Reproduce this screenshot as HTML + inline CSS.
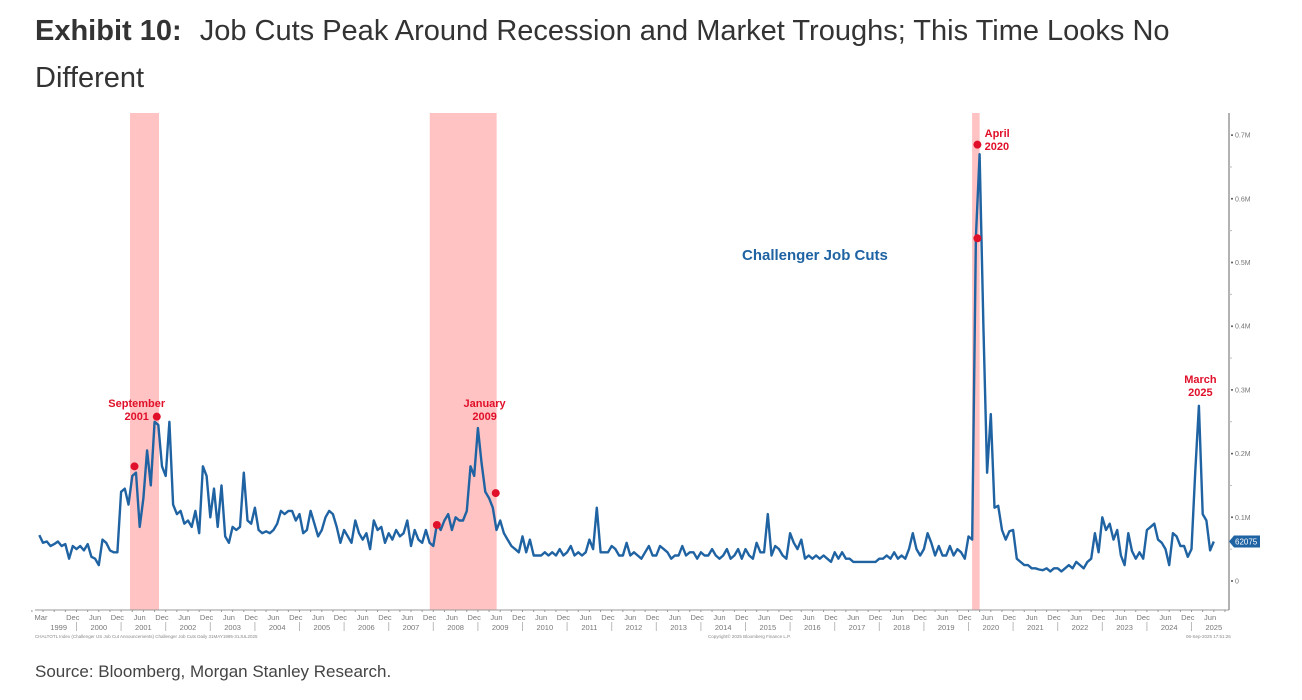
<!DOCTYPE html>
<html><head><meta charset="utf-8">
<style>
body{margin:0;background:#fff;width:1302px;height:700px;overflow:hidden;font-family:"Liberation Sans",sans-serif}
#title{position:absolute;left:35px;top:8px;font-size:29px;color:#333;line-height:47px;width:1240px}
#title b{font-weight:bold;margin-right:10px}
#source{position:absolute;left:35px;top:662px;font-size:17px;color:#444}
svg{position:absolute;left:0;top:0}
</style></head><body>
<div id="title"><b>Exhibit 10:</b> Job Cuts Peak Around Recession and Market Troughs; This Time Looks No Different</div>
<div id="source">Source: Bloomberg, Morgan Stanley Research.</div>
<svg id="chart" width="1302" height="700"></svg>
<script>
const startYear = 1999, startMonth = 2; // March 1999
const values = [
72,60,62,55,58,62,55,58,35,55,
50,55,48,58,38,35,25,65,60,48,45,45,
140,145,120,165,170,85,130,205,150,250,245,180,
165,250,120,105,110,90,95,85,110,75,180,165,
100,145,85,150,70,60,85,80,85,170,95,90,
115,80,75,78,75,80,90,110,105,110,110,95,
105,75,80,110,90,70,80,100,110,105,85,60,
80,70,60,95,75,65,75,50,95,80,85,60,
75,65,80,70,75,95,55,80,65,60,80,60,
55,90,80,95,105,80,100,95,95,110,180,165,
240,185,140,130,115,80,95,75,65,55,50,45,
70,45,65,40,40,40,45,40,45,40,50,40,
45,55,40,45,40,45,65,50,115,45,45,45,
55,50,40,40,60,40,45,40,35,45,55,40,
40,55,50,45,35,40,40,55,40,45,45,35,
45,40,40,50,40,35,40,50,35,40,50,35,
50,40,35,60,45,45,105,40,55,50,40,35,
75,60,50,65,35,40,35,40,35,40,35,30,
45,35,45,35,35,30,30,30,30,30,30,30,
35,35,40,35,45,35,40,35,50,75,50,40,
50,75,60,40,55,40,40,55,40,50,45,35,
70,65,540,670,400,170,262,115,118,80,65,78,
80,35,30,25,25,20,20,18,17,20,15,20,
20,15,20,25,20,30,25,20,30,35,75,45,
100,80,90,65,80,40,25,75,47,35,45,35,
80,85,90,65,60,50,25,75,70,55,55,38,
50,170,275,105,95,48,62
];
const recessions = [[2001.2,2001.85],[2007.92,2009.42],[2020.08,2020.25]];
const yTicks = [0,100,200,300,400,500,600,700];
const yTickLabels = ["0","0.1M","0.2M","0.3M","0.4M","0.5M","0.6M","0.7M"];
const years = [1999,2000,2001,2002,2003,2004,2005,2006,2007,2008,2009,2010,2011,2012,2013,2014,2015,2016,2017,2018,2019,2020,2021,2022,2023,2024,2025];
const annotations = [
 {t:2001.35, lines:["September","2001"], dx:0, y:407, anchor:"middle"},
 {t:2009.15, lines:["January","2009"], dx:0, y:407, anchor:"middle"},
 {t:2020.25, lines:["April","2020"], dx:5, y:137, anchor:"start"},
 {t:2025.2, lines:["March","2025"], dx:0, y:383, anchor:"middle"}
];
const markers = [[2001.3,180],[2001.8,258],[2008.08,88],[2009.4,138],[2020.2,685],[2020.2,538]];
const NS="http://www.w3.org/2000/svg";
const svg=document.getElementById('chart');
const X0=76.5, PY=44.6, RIGHT=1229, TOP=113, BOT=610;
function xs(t){return X0+(t-2000)*PY;}
function ys(v){return 581-v*0.637;}
function mk(tag,attrs,parent){const e=document.createElementNS(NS,tag);for(const k in attrs)e.setAttribute(k,attrs[k]);(parent||svg).appendChild(e);return e;}
recessions.forEach((r,i)=>{
 const e=mk('rect',{x:xs(r[0]),y:TOP,width:xs(r[1])-xs(r[0]),height:BOT-TOP,fill:'#ffb8b8',opacity:0.85});
 
 
});
const ax=mk('line',{x1:RIGHT,y1:TOP,x2:RIGHT,y2:BOT,stroke:'#999','stroke-width':1.5});


const bx=mk('line',{x1:35,y1:BOT,x2:RIGHT,y2:BOT,stroke:'#999','stroke-width':1});


yTicks.forEach((v,i)=>{
 mk('circle',{cx:RIGHT+3,cy:ys(v),r:1,fill:'#555'});
 if(i<yTicks.length-1) mk('line',{x1:RIGHT,y1:ys(v+50),x2:RIGHT+3,y2:ys(v+50),stroke:'#bbb'});
 const t=mk('text',{x:RIGHT+6,y:ys(v)+2.5,'font-size':7,fill:'#777'});t.textContent=yTickLabels[i];
 
 
});
const fs={'font-size':7.5,fill:'#777','text-anchor':'middle'};
let t0=mk('text',Object.assign({x:41,y:620},fs));t0.textContent='Mar';
years.forEach(y=>{
 if(y>1999){
  const j=mk('text',Object.assign({x:xs(y+5/12),y:620},fs));j.textContent='Jun';
  mk('line',{x1:xs(y),y1:622,x2:xs(y),y2:631,stroke:'#bbb'});
 }
 if(y<2025){const d=mk('text',Object.assign({x:xs(y+11/12),y:620},fs));d.textContent='Dec';}
 for(let m=0;m<12;m+=3) mk('line',{x1:xs(y+m/12),y1:BOT,x2:xs(y+m/12),y2:BOT+2,stroke:'#999'});
 const yl=mk('text',Object.assign({x:y===1999?xs(1999.6):xs(y+0.5),y:630},fs));yl.textContent=y;
 
 
});
const f1=mk('text',{x:35,y:638,'font-size':4.5,fill:'#888'});f1.textContent='CHALTOTL Index (Challenger US Job Cut Announcements) Challenger Job Cuts  Daily 31MAY1995-31JUL2025';
const f2=mk('text',{x:708,y:638,'font-size':4.5,fill:'#888'});f2.textContent='Copyright\u00a9 2025 Bloomberg Finance L.P.';
const f3=mk('text',{x:1186,y:638,'font-size':4.5,fill:'#888'});f3.textContent='06-Sep-2025 17:51:26';
let d='';
values.forEach((v,i)=>{const t=startYear+(startMonth+i)/12;d+=(i?'L':'M')+xs(t).toFixed(1)+' '+ys(v).toFixed(1);});
const line=mk('path',{d:d,fill:'none',stroke:'#1f63a3','stroke-width':2.4,'stroke-linejoin':'round'});


const lv=values[values.length-1];
const tag=mk('path',{d:`M${RIGHT} ${ys(lv)} l5 -6 h26 v12 h-26 z`,fill:'#1f63a3'});


const tt=mk('text',{x:RIGHT+6,y:ys(lv)+3,'font-size':8,fill:'#fff'});tt.textContent='62075';
const sl=mk('text',{x:742,y:260,'font-size':15,'font-weight':'bold',fill:'#1f63a3'});sl.textContent='Challenger Job Cuts';


markers.forEach(m=>{
 const c=mk('circle',{cx:xs(m[0]),cy:ys(m[1]),r:4,fill:'#e0102a'});
 
 
});
annotations.forEach(a=>{
 a.lines.forEach((s,k)=>{
  const t=mk('text',{x:xs(a.t)+a.dx,y:a.y+k*13,'font-size':11,'font-weight':'bold',fill:'#e0102a','text-anchor':a.anchor});
  t.textContent=s;
  
  
 });
});
</script>
</body></html>
